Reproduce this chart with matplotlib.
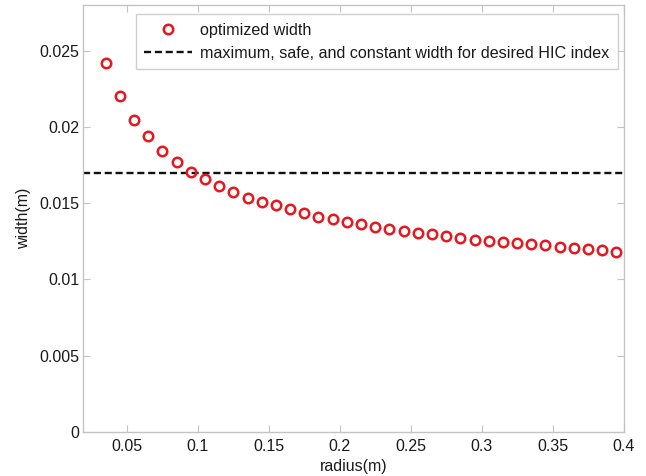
import matplotlib
matplotlib.use("Agg")
import matplotlib.pyplot as plt
from matplotlib.ticker import FuncFormatter

radius = [0.035, 0.045, 0.055, 0.065, 0.075, 0.085, 0.095, 0.105, 0.115, 0.125,
          0.135, 0.145, 0.155, 0.165, 0.175, 0.185, 0.195, 0.205, 0.215, 0.225,
          0.235, 0.245, 0.255, 0.265, 0.275, 0.285, 0.295, 0.305, 0.315, 0.325,
          0.335, 0.345, 0.355, 0.365, 0.375, 0.385, 0.395]
optimized_width = [0.02424, 0.02203, 0.02048, 0.01941, 0.01845, 0.01773, 0.01703,
                   0.01660, 0.01616, 0.01575, 0.01537, 0.01509, 0.01486, 0.01461,
                   0.01437, 0.01413, 0.01395, 0.01378, 0.01362, 0.01345, 0.01330,
                   0.01319, 0.01306, 0.01297, 0.01283, 0.01269, 0.01262, 0.01254,
                   0.01247, 0.01241, 0.01234, 0.01225, 0.01216, 0.01205, 0.01197,
                   0.01190, 0.01182]
constant_width = 0.017
x_ticks = [0.05, 0.1, 0.15, 0.2, 0.25, 0.3, 0.35, 0.4]
y_ticks = [0, 0.005, 0.01, 0.015, 0.02, 0.025]
labels = ["optimized width",
          "maximum, safe, and constant width for desired HIC index"]

plt.rcParams['font.family'] = ['Liberation Sans', 'DejaVu Sans']
FS = 11.6
spine_c = '#c4c4c4'
txt_c = '#1a1a1a'

fig = plt.figure(figsize=(6.46, 4.76), dpi=100)
ax = fig.add_axes([83/646, 1-431.7/476, (623.5-83)/646, (431.7-5.3)/476])

xmin, xmax = 0.019, 0.4
ax.plot(radius, optimized_width, linestyle='none', marker='o', markersize=6.8,
        markerfacecolor='none', markeredgecolor='#e8161e', markeredgewidth=1.8,
        label=labels[0], zorder=3)
ax.plot([xmin, xmax], [constant_width, constant_width], color='#111111',
        linewidth=1.7, linestyle=(0, (3.0, 1.6)), label=labels[1], zorder=2)

ax.set_xlim(xmin, xmax)
ax.set_ylim(0, 0.028)
ax.set_xticks(x_ticks)
ax.set_yticks(y_ticks)
fmt = FuncFormatter(lambda v, p: '%g' % v)
ax.xaxis.set_major_formatter(fmt)
ax.yaxis.set_major_formatter(fmt)

for s in ax.spines.values():
    s.set_color(spine_c)
    s.set_linewidth(1.0)
ax.tick_params(axis='both', which='both', direction='in', top=True, right=True,
               length=4.8, width=0.8, color=spine_c, labelsize=11.5, labelcolor=txt_c)
ax.tick_params(axis='x', pad=5.5)
ax.tick_params(axis='y', pad=2.5)

ax.set_xlabel('radius(m)', fontsize=11.5, color=txt_c, labelpad=3)
ax.set_ylabel('width(m)', fontsize=11.5, color=txt_c, labelpad=6)

leg = ax.legend(loc='upper left', bbox_to_anchor=((135.7-83)/540.5, (431.7-14.3)/426.4),
                fontsize=FS, frameon=True, fancybox=False, shadow=False,
                handlelength=2.95, handletextpad=0.55, borderpad=0.52,
                labelspacing=0.5, borderaxespad=0.0)
leg.get_frame().set_edgecolor(spine_c)
leg.get_frame().set_linewidth(1.0)
for t in leg.get_texts():
    t.set_color(txt_c)

fig.savefig('out.png', dpi=100)
